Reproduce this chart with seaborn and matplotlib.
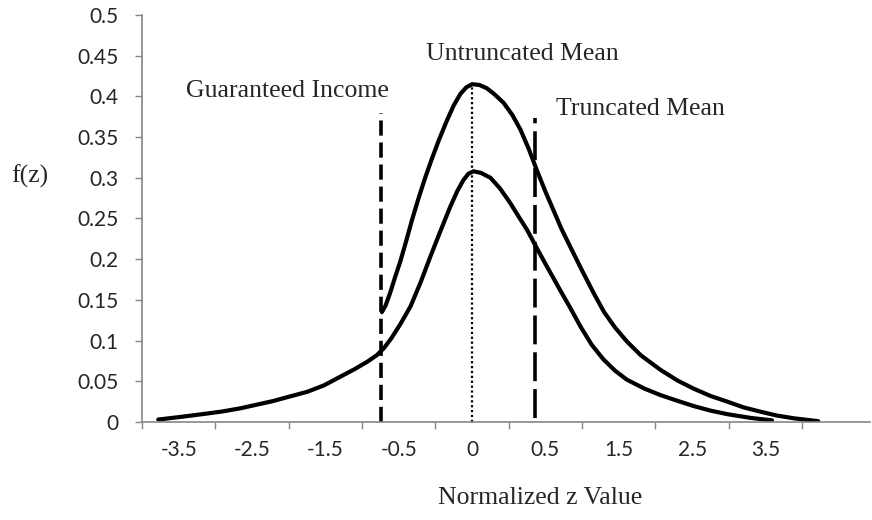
import matplotlib
matplotlib.use('Agg')
import matplotlib.pyplot as plt
import seaborn as sns

# Eje x de categorías: posición 0 = eje y, una unidad = una categoría
z_labels = ['-3.5', '-2.5', '-1.5', '-0.5', '0', '0.5', '1.5', '2.5', '3.5']

# Curva sin truncar (más baja y ancha)
pos_base = [0.22, 0.55, 0.88, 1.10, 1.34, 1.55, 1.79, 2.00, 2.25, 2.48, 2.70, 2.90,
            3.07, 3.20, 3.30, 3.40, 3.52, 3.66, 3.80, 3.93, 4.07, 4.20, 4.30, 4.38,
            4.45, 4.52, 4.62, 4.75, 4.88, 5.02, 5.13, 5.25, 5.38, 5.52, 5.62, 5.70,
            5.84, 5.98, 6.13, 6.29, 6.45, 6.61, 6.85, 7.07, 7.30, 7.52, 7.75, 7.98,
            8.30, 8.59]
f_base = [0.003, 0.0065, 0.0103, 0.013, 0.0168, 0.021, 0.0258, 0.031, 0.037, 0.045,
          0.0555, 0.065, 0.074, 0.082, 0.091, 0.103, 0.12, 0.142, 0.172, 0.203, 0.235,
          0.264, 0.284, 0.297, 0.305, 0.308, 0.306, 0.300, 0.287, 0.269, 0.253, 0.236,
          0.214, 0.191, 0.175, 0.162, 0.140, 0.117, 0.095, 0.077, 0.063, 0.052, 0.041,
          0.033, 0.026, 0.0196, 0.014, 0.0096, 0.005, 0.002]

# Curva truncada (empieza en el ingreso garantizado)
pos_trunc = [3.27, 3.32, 3.38, 3.45, 3.52, 3.60, 3.68, 3.77, 3.86, 3.95, 4.05, 4.15,
             4.25, 4.34, 4.42, 4.50, 4.60, 4.70, 4.80, 4.93, 5.05, 5.16, 5.27, 5.38,
             5.50, 5.61, 5.72, 5.84, 6.00, 6.16, 6.30, 6.45, 6.61, 6.80, 7.07, 7.30,
             7.52, 7.75, 7.98, 8.20, 8.43, 8.65, 8.89, 9.22]
f_trunc = [0.135, 0.143, 0.158, 0.178, 0.197, 0.222, 0.248, 0.275, 0.300, 0.323, 0.347,
           0.369, 0.389, 0.403, 0.411, 0.415, 0.414, 0.410, 0.403, 0.392, 0.377, 0.359,
           0.336, 0.310, 0.283, 0.260, 0.237, 0.215, 0.186, 0.158, 0.135, 0.116, 0.099,
           0.082, 0.064, 0.051, 0.041, 0.032, 0.025, 0.018, 0.0127, 0.008, 0.0045, 0.001]

# Lineas verticales
guaranteed_pos, guaranteed_top = 3.26, 0.38
mean_pos, mean_top = 4.5, 0.415
trunc_mean_pos, trunc_mean_bottom, trunc_mean_top = 5.36, 0.005, 0.373

sns.set_style('white')
plt.rcParams['font.family'] = ['Lato', 'DejaVu Sans']
serif = ['Liberation Serif', 'DejaVu Serif']

fig = plt.figure(figsize=(8.72, 5.2), dpi=100)
ax = fig.add_axes([0.163, 0.1885, 0.835, 0.7827])

sns.lineplot(x=pos_base, y=f_base, ax=ax, color='black', lw=3, sort=False, estimator=None)
sns.lineplot(x=pos_trunc, y=f_trunc, ax=ax, color='black', lw=3, sort=False, estimator=None)

sns.lineplot(x=[guaranteed_pos, guaranteed_pos], y=[0, guaranteed_top], ax=ax, color='black',
             lw=2.6, linestyle=(0, (4.2, 1.9)), sort=False, estimator=None)
sns.lineplot(x=[mean_pos, mean_pos], y=[0, mean_top], ax=ax, color='black',
             lw=1.6, linestyle=(0, (1, 1.2)), sort=False, estimator=None)
sns.lineplot(x=[trunc_mean_pos, trunc_mean_pos], y=[trunc_mean_bottom, trunc_mean_top], ax=ax,
             color='black', lw=2.6, linestyle=(0, (8, 2.2)), sort=False, estimator=None)

# Textos
ax.text(guaranteed_pos + 0.1, 0.407, 'Guaranteed Income', ha='right', va='center',
        fontsize=18.5, family=serif)
ax.text(mean_pos - 0.63, 0.452, 'Untruncated Mean', ha='left', va='center',
        fontsize=18.5, family=serif)
ax.text(trunc_mean_pos + 0.28, 0.384, 'Truncated Mean', ha='left', va='center',
        fontsize=18.5, family=serif)
fig.text(0.034, 1 - 176 / 520, 'f(z)', ha='center', va='center', fontsize=18.5, family=serif)

# Ejes estilo Excel
ax.set_xlim(0, 9.93)
ax.set_ylim(0, 0.5)
ax.set_yticks([i * 0.05 for i in range(11)])
ax.set_yticklabels(['0', '0.05', '0.1', '0.15', '0.2', '0.25', '0.3', '0.35', '0.4', '0.45', '0.5'])
ax.set_xticks(range(10))
ax.set_xticklabels([])
ax.set_xticks([i + 0.5 for i in range(len(z_labels))], minor=True)
ax.set_xticklabels(z_labels, minor=True)
ax.tick_params(axis='x', which='major', length=5, width=1, color='#868686', direction='out', bottom=True)
ax.tick_params(axis='x', which='minor', length=0, pad=13, labelsize=15)
ax.tick_params(axis='y', length=5, width=1, color='#868686', direction='out', left=True,
               pad=12, labelsize=15)

for side in ['top', 'right']:
    ax.spines[side].set_visible(False)
for side in ['left', 'bottom']:
    ax.spines[side].set_color('#868686')
    ax.spines[side].set_linewidth(1.2)

ax.set_xlabel('Normalized z Value', fontsize=18.5, family=serif, va='center')
ax.xaxis.set_label_coords((540 - 142) / 728, -76 / 407)
ax.set_ylabel('')

fig.savefig('out.png', dpi=100)
